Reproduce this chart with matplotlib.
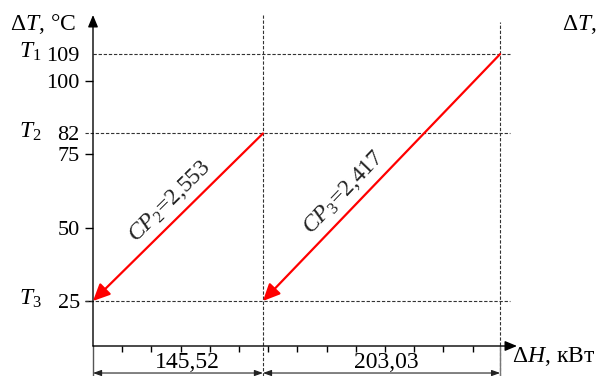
import matplotlib
matplotlib.use("Agg")
import matplotlib.pyplot as plt
import matplotlib.transforms as mtransforms
import numpy as np

# ---- data ----
dH = [145.52, 203.03]              # kW, widths of the two intervals
cp_names = ['CP_2', 'CP_3']
cp_values = ['2,553', '2,417']
t_names = ['T_1', 'T_2', 'T_3']
t_levels = [109, 82, 25]           # degC
y_ticks = [25, 50, 75, 100]
x_minor = [25, 50, 75, 100, 125, 150, 175, 200, 225, 250, 275, 300, 325]

plt.rcParams['font.family'] = ['Liberation Serif', 'DejaVu Serif']
plt.rcParams['mathtext.fontset'] = 'custom'
plt.rcParams['mathtext.rm'] = 'Liberation Serif'
plt.rcParams['mathtext.it'] = 'Liberation Serif:italic'
FS = 17

W, H = 597, 376
fig = plt.figure(figsize=(W / 100, H / 100), dpi=100)
ax = fig.add_axes([93 / W, 30 / H, 424 / W, 331 / H])

x1 = dH[0]
x2 = dH[0] + dH[1]
ax.set_xlim(0, 363)
ax.set_ylim(9.69, 122.3)
for s in ax.spines.values():
    s.set_visible(False)

# axes with arrows
ax.annotate('', xy=(0, 1), xytext=(0, 0), xycoords='axes fraction',
            arrowprops=dict(arrowstyle='-|>,head_length=0.6,head_width=0.25',
                            color='k', lw=1, mutation_scale=12, shrinkA=0, shrinkB=0))
ax.annotate('', xy=(1, 0), xytext=(0, 0), xycoords='axes fraction',
            arrowprops=dict(arrowstyle='-|>,head_length=0.6,head_width=0.25',
                            color='k', lw=1, mutation_scale=12, shrinkA=0, shrinkB=0))

# y ticks
ax.set_yticks(y_ticks + t_levels[:2])
ax.set_yticklabels([str(v) for v in y_ticks + t_levels[:2]], fontsize=16)
ax.tick_params(axis='y', direction='out', length=6, width=1, pad=3.5)
for t in ax.yaxis.get_major_ticks()[len(y_ticks):]:
    t.tick1line.set_visible(False)

# x ticks: only small marks, no labels
ax.set_xticks(x_minor)
ax.set_xticklabels([])
ax.tick_params(axis='x', direction='out', length=4.5, width=1)

# dashed guide lines
dash = dict(color='#333333', lw=0.8, dashes=(3, 1.6), clip_on=False)
ax.plot([0, 357], [t_levels[0]] * 2, **dash)
ax.plot([-7, 357], [t_levels[1]] * 2, **dash)
ax.plot([-7, 357], [t_levels[2]] * 2, **dash)
ax.plot([x1, x1], [-0.6, 122.3], **dash)
ax.plot([x2, x2], [-0.6, 119.9], **dash)

# extension lines below the axis
ax.plot([0, 0], [9.69, -0.6], color='#555555', lw=1, clip_on=False)
ax.plot([x2, x2], [9.69, -0.6], color='#777777', lw=1, clip_on=False)

# red CP lines
segs = [((x1, t_levels[1]), (0, t_levels[2])),
        ((x2, t_levels[0]), (x1, t_levels[2]))]
fracs = [0.52, 0.39]
for (start, end), name, val, f in zip(segs, cp_names, cp_values, fracs):
    ax.annotate('', xy=end, xytext=start,
                arrowprops=dict(arrowstyle='-|>,head_length=0.6,head_width=0.28',
                                color='#ff0000', lw=1.6, mutation_scale=17,
                                shrinkA=0, shrinkB=0))
    p0 = ax.transData.transform(end)
    p1 = ax.transData.transform(start)
    ang = np.degrees(np.arctan2(p1[1] - p0[1], p1[0] - p0[0]))
    px = end[0] + f * (start[0] - end[0])
    py = end[1] + f * (start[1] - end[1])
    ax.annotate('$' + name + '$=' + val, xy=(px, py), xytext=(-12, 12),
                textcoords='offset pixels', rotation=ang, rotation_mode='anchor',
                ha='center', va='center', fontsize=FS, color='#222222')

# dimension arrows below the axis
for a, b, off in [(0, x1, 9), (x1, x2, 5)]:
    ax.annotate('', xy=(b, 0.5), xytext=(a, 0.5), annotation_clip=False,
                arrowprops=dict(arrowstyle='<|-|>,head_length=0.5,head_width=0.18',
                                color='#222222', lw=0.8, mutation_scale=10,
                                shrinkA=0, shrinkB=0))
    ax.annotate(f'{b - a:.2f}'.replace('.', ','), xy=((a + b) / 2, 2.2),
                xytext=(off, 0), textcoords='offset pixels', annotation_clip=False,
                ha='center', va='baseline', fontsize=FS)

# T labels on the left
blend = mtransforms.blended_transform_factory(fig.transFigure, ax.transData)
for name, lvl in zip(t_names, t_levels):
    ax.text(19 / W, lvl + 0.6, '$' + name + '$', transform=blend,
            ha='left', va='center', fontsize=FS, clip_on=False)

# axis titles
fig.text(10 / W, 1 - 30 / H, r'$\Delta T$, °C', fontsize=FS, ha='left', va='baseline')
fig.text(512 / W, 1 - 362 / H, r'$\Delta H$, кВт', fontsize=FS, ha='left', va='baseline')
fig.text(562 / W, 1 - 30 / H, r'$\Delta T$,', fontsize=FS, ha='left', va='baseline')

fig.savefig('out.png', dpi=100)
